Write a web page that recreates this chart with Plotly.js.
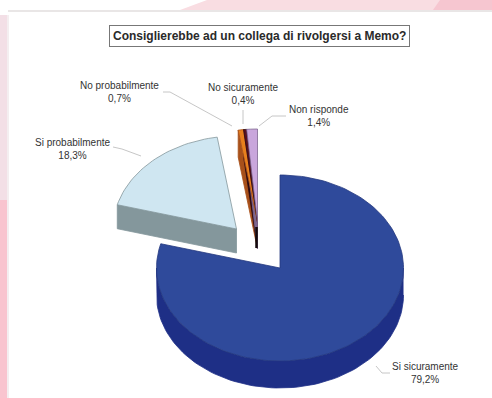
<!DOCTYPE html>
<html>
<head>
<meta charset="utf-8">
<script src="https://cdn.plot.ly/plotly-3.0.1.min.js"></script>
<style>html,body{margin:0;padding:0;background:#fff}#chart{width:492px;height:398px}</style>
</head>
<body>
<div id="chart"></div>
<script>
const titleText = 'Consiglierebbe ad un collega di rivolgersi a Memo?';
const categories = ['Si sicuramente', 'Si probabilmente', 'No probabilmente', 'No sicuramente', 'Non risponde'];
const shares = [79.2, 18.3, 0.7, 0.4, 1.4];
const topColors = ['#2f4a9b', '#cfe6f1', '#e8801e', '#5a1020', '#c9a6dc'];
const sideColors = ['#1e2f86', '#84979c', '#a8501a', '#2a0810', '#7d6690'];

// Each wedge: apex of its top face after being pulled out of the pie.
const apexes = [[280, 268], [236.5, 229], [257.5, 222], [257.5, 222], [257.5, 222]];
const RX = 123.5, RY = 93, DEPTH = 27;

function rim(apex, a0, a1, dy) {
  const xs = [], ys = [];
  const n = Math.max(2, Math.ceil((a1 - a0) / 2));
  for (let i = 0; i <= n; i++) {
    const a = (a0 + (a1 - a0) * i / n) * Math.PI / 180;
    xs.push(apex[0] + RX * Math.sin(a));
    ys.push(apex[1] - RY * Math.cos(a) + dy);
  }
  return [xs, ys];
}

function poly(xs, ys, fill, line) {
  return {type: 'scatter', mode: 'lines', x: xs, y: ys, fill: 'toself', fillcolor: fill,
          line: {color: line, width: 0.8}, hoverinfo: 'skip', showlegend: false};
}

// Walls go first so that every top face sits above them.
const walls = [], tops = [];
let start = 0;
shares.forEach((share, i) => {
  const a0 = start, a1 = start + share * 3.6;
  start = a1;
  const apex = apexes[i];
  const [tx, ty] = rim(apex, a0, a1, 0);
  if (i === 0) {
    // Outer rim of the large wedge, lower half only.
    const [ox, oy] = rim(apex, 90, 270, 0);
    const [bx, by] = rim(apex, 90, 270, DEPTH);
    walls.push(poly(ox.concat(bx.slice().reverse()), oy.concat(by.slice().reverse()), sideColors[0], sideColors[0]));
  } else {
    // Cut face on the left of a wedge, visible from the viewer's side.
    const d = i === 1 ? 24 : DEPTH;
    walls.push(poly(
      [apex[0], tx[0], tx[0], apex[0], apex[0]],
      [apex[1], ty[0], ty[0] + d, apex[1] + d, apex[1]],
      sideColors[i], sideColors[i]));
  }
  tops.push(poly([apex[0]].concat(tx, apex[0]), [apex[1]].concat(ty, apex[1]), topColors[i], i === 0 ? '#24397f' : sideColors[i]));
});

// Dark edge under the narrow wedges.
const tip = apexes[3];
const tipEdge = {type: 'scatter', mode: 'lines', x: [tip[0] - 1, tip[0] - 1], y: [tip[1] + 5, tip[1] + DEPTH - 1],
  line: {color: '#140a0c', width: 2.5}, hoverinfo: 'skip', showlegend: false};

// Leader lines from labels to wedges.
const leaders = [
  [[390, 382, 376], [373, 373, 366]],
  [[113, 122, 141], [147, 149, 156]],
  [[163, 170, 232], [92, 92, 126]],
  [[243, 243], [110, 124]],
  [[286, 272, 259], [116, 116, 126]]
];
const leaderTraces = leaders.map(l => ({type: 'scatter', mode: 'lines', x: l[0], y: l[1],
  line: {color: '#b8b8b8', width: 0.8}, hoverinfo: 'skip', showlegend: false}));

const labelPos = [[425, 373], [72, 149], [119, 91.5], [243, 93.5], [319, 116]];
const annotations = categories.map((c, i) => ({
  x: labelPos[i][0], y: labelPos[i][1], xref: 'x', yref: 'y', showarrow: false, align: 'center',
  text: c + '<br>' + shares[i].toFixed(1).replace('.', ',') + '%',
  font: {family: 'Liberation Sans, Arial, sans-serif', size: 10, color: '#333'}
}));
annotations.push({
  x: 259, y: 35.5, xref: 'x', yref: 'y', showarrow: false, text: '<b>' + titleText + '</b>',
  font: {family: 'Liberation Sans, Arial, sans-serif', size: 12, color: '#2a2a2a'},
  bordercolor: '#777', borderwidth: 1, borderpad: 3, bgcolor: '#fff'
});

const bgRect = (x0, x1, y0, y1, fillcolor) => ({type: 'rect', xref: 'x', yref: 'y', x0, x1, y0, y1,
  layer: 'below', line: {width: 0}, fillcolor});
const shapes = [
  // Pink page behind the white sheet.
  bgRect(0, 7, 15, 200, '#f3dfe6'),
  bgRect(0, 7, 200, 398, '#f9c4cf'),
  bgRect(7, 9, 15, 398, '#f4eef0'),
  {type: 'path', xref: 'x', yref: 'y', path: 'M180,10 L207,0 L492,0 L492,10 Z', layer: 'below', line: {width: 0}, fillcolor: '#f9dde2'},
  {type: 'path', xref: 'x', yref: 'y', path: 'M433,10 L440,0 L492,0 L492,10 Z', layer: 'below', line: {width: 0}, fillcolor: '#f6c6d0'},
  bgRect(8, 492, 10, 12, '#e9e6e6')
];

Plotly.newPlot('chart', walls.concat(tops, [tipEdge], leaderTraces), {
  width: 492, height: 398, margin: {l: 0, r: 0, t: 0, b: 0},
  paper_bgcolor: '#fff', plot_bgcolor: '#fff', showlegend: false,
  xaxis: {range: [0, 492], visible: false, fixedrange: true},
  yaxis: {range: [398, 0], visible: false, fixedrange: true},
  annotations, shapes
}, {displayModeBar: false, staticPlot: true});
</script>
</body>
</html>
